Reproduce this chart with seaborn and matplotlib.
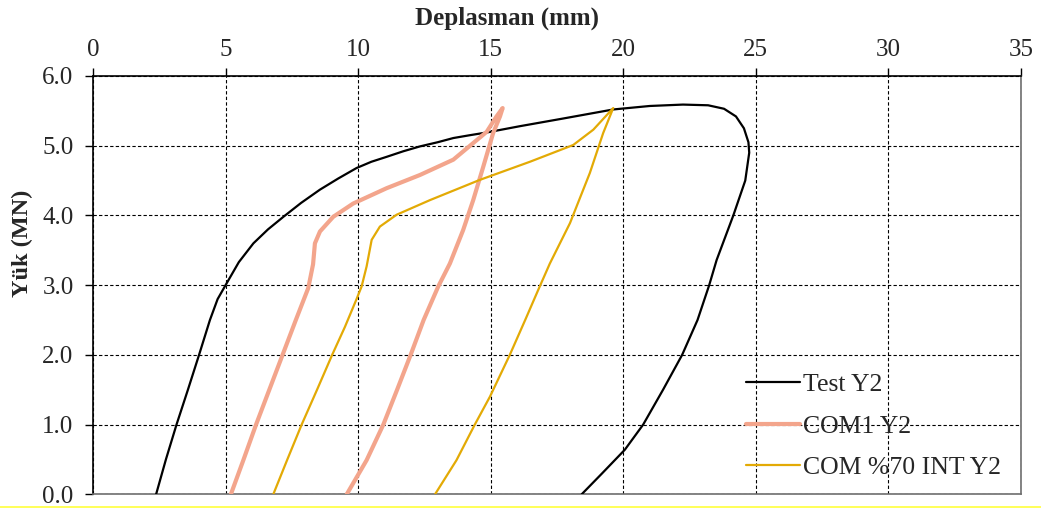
import matplotlib
matplotlib.use("Agg")
import matplotlib.pyplot as plt
from matplotlib.lines import Line2D
import pandas as pd
import seaborn as sns

# Load-displacement paths (displacement in mm, load in MN), in drawing order
test_x = [2.38, 2.75, 3.15, 3.58, 4.0, 4.41, 4.7, 5.0, 5.5, 6.05, 6.6, 7.18, 7.85, 8.56, 9.25,
          9.94, 10.5, 11.07, 11.7, 12.33, 13.0, 13.59, 14.2, 14.85, 16.1, 17.73, 19.62, 21.0,
          22.25, 23.2, 23.8, 24.25, 24.55, 24.72, 24.75, 24.6, 24.15, 23.52, 23.24, 22.8, 22.22,
          21.5, 20.75, 20.06, 19.2, 18.43]
test_y = [0.0, 0.5, 1.0, 1.5, 2.0, 2.5, 2.8, 3.0, 3.33, 3.6, 3.8, 3.98, 4.18, 4.37, 4.53,
          4.68, 4.77, 4.84, 4.92, 4.99, 5.05, 5.11, 5.15, 5.19, 5.28, 5.39, 5.52, 5.57,
          5.59, 5.58, 5.53, 5.42, 5.25, 5.05, 4.9, 4.5, 4.0, 3.36, 3.0, 2.5, 2.0,
          1.5, 1.0, 0.64, 0.3, 0.0]

com1_x = [5.2, 5.68, 6.15, 6.65, 7.15, 7.65, 8.12, 8.3, 8.37, 8.56, 9.06, 9.81, 11.07, 12.33,
          13.59, 14.22, 14.85, 15.22, 15.45,
          15.35, 15.09, 14.72, 14.34, 13.96, 13.46, 13.02, 12.47, 11.98, 11.47, 10.95, 10.32, 9.57]
com1_y = [0.0, 0.5, 1.0, 1.5, 2.0, 2.5, 2.96, 3.3, 3.6, 3.77, 3.98, 4.17, 4.39, 4.58,
          4.8, 5.0, 5.2, 5.42, 5.54,
          5.42, 5.18, 4.7, 4.22, 3.79, 3.31, 2.98, 2.5, 2.0, 1.5, 1.0, 0.49, 0.0]

int70_x = [6.8, 7.33, 7.87, 8.45, 9.02, 9.5, 9.94, 10.13, 10.32, 10.51, 10.82, 11.45, 12.71,
           14.59, 16.48, 18.11, 18.87, 19.62,
           19.24, 18.74, 17.99, 17.23, 16.79, 16.3, 15.72, 14.97, 14.4, 13.71, 12.9]
int70_y = [0.0, 0.5, 1.0, 1.5, 2.0, 2.4, 2.8, 2.98, 3.27, 3.65, 3.84, 4.01, 4.22,
           4.51, 4.77, 5.01, 5.23, 5.54,
           5.18, 4.61, 3.89, 3.31, 2.93, 2.5, 2.0, 1.4, 1.0, 0.49, 0.0]

series_names = ["Test Y2", "COM1 Y2", "COM %70 INT Y2"]
x_ticks = [0, 5, 10, 15, 20, 25, 30, 35]
y_ticks = [0.0, 1.0, 2.0, 3.0, 4.0, 5.0, 6.0]

colors = {"Test Y2": "#000000", "COM1 Y2": "#F3A58C", "COM %70 INT Y2": "#E3AA05"}
widths = {"Test Y2": 1.6, "COM1 Y2": 3.0, "COM %70 INT Y2": 1.6}

frames = []
for name, xs, ys in zip(series_names, [test_x, com1_x, int70_x], [test_y, com1_y, int70_y]):
    frames.append(pd.DataFrame({"Deplasman": xs, "Yuk": ys, "Seri": name}))
df = pd.concat(frames, ignore_index=True)

sns.set_theme(style="white")
plt.rcParams["font.family"] = ["Liberation Serif", "DejaVu Serif"]

fig = plt.figure(figsize=(10.41, 5.09), dpi=100)
ax = fig.add_axes([93 / 1041, 1 - 494.3 / 509, (1021 - 93) / 1041, (494.3 - 76) / 509])

for name in series_names:
    sub = df[df["Seri"] == name]
    sns.lineplot(data=sub, x="Deplasman", y="Yuk", sort=False, estimator=None,
                 color=colors[name], lw=widths[name], label=name, ax=ax,
                 solid_capstyle="round", solid_joinstyle="round", zorder=3)

ax.set_xlim(0, 35)
ax.set_ylim(0, 6)
ax.set_xticks(x_ticks)
ax.set_yticks(y_ticks)
ax.set_yticklabels([f"{v:.1f}" for v in y_ticks])

ax.xaxis.tick_top()
ax.set_xlabel("")
ax.set_ylabel("")
fig.text(507 / 1041, 1 - 18 / 509, "Deplasman (mm)", fontsize=18, fontweight="bold",
         ha="center", va="center")
fig.text(22 / 1041, 1 - 243 / 509, "Yük (MN)", fontsize=17.5, fontweight="bold",
         rotation=90, ha="center", va="center")

ax.tick_params(axis="x", which="both", top=True, bottom=False, direction="out",
               length=6, width=1, color="black", labelsize=18, pad=5)
ax.tick_params(axis="y", which="both", left=True, direction="out",
               length=6, width=1, color="black", labelsize=18, pad=8)

ax.grid(True, color="black", linestyle=(0, (3, 2)), linewidth=0.8)
ax.set_axisbelow(True)

ax.spines["top"].set_color("black")
ax.spines["left"].set_color("black")
ax.spines["right"].set_color("#6e6e6e")
ax.spines["bottom"].set_color("#6e6e6e")
for s in ax.spines.values():
    s.set_linewidth(1.2)
    s.set_visible(True)

leg = ax.legend(loc="lower left", bbox_to_anchor=(0.7037, 0.036), frameon=False,
                fontsize=18.5, handlelength=2.1, handletextpad=0.12, labelspacing=0.72,
                borderpad=0, borderaxespad=0)

fig.add_artist(Line2D([0, 1], [0.004, 0.004], transform=fig.transFigure,
                      color="#FFFF3C", lw=1.2))

fig.savefig("out.png", dpi=100, facecolor="white")
